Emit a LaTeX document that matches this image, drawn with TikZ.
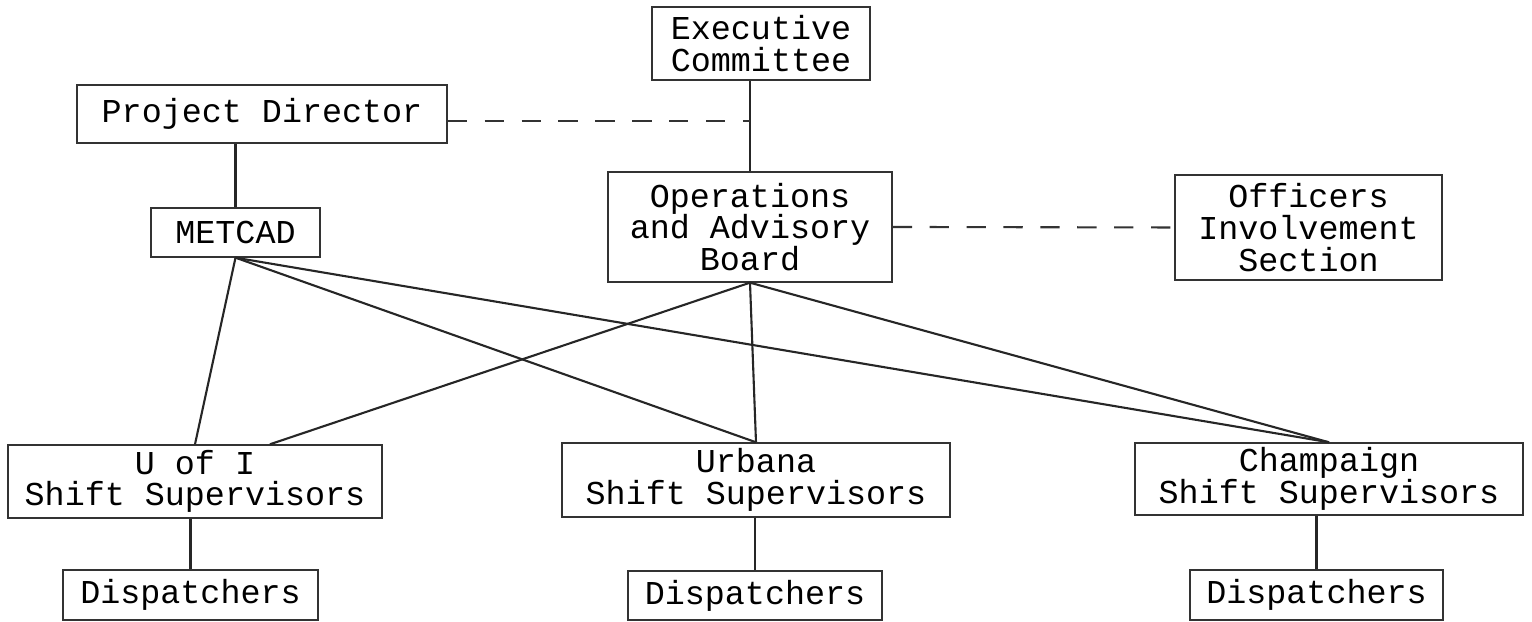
\documentclass[tikz,border=0pt]{standalone}
\usepackage{fontspec}
\setmonofont{Liberation Mono}
\usetikzlibrary{calc}
\tikzstyle{unit} = [draw=black!80, thin, align=center, inner sep=1pt, font=\ttfamily\fontsize{9.5}{9}\selectfont]
\tikzstyle{link} = [semithick, black!85]
\tikzstyle{staff} = [semithick, black!80, dash pattern=on 5.5pt off 5pt]

\begin{document}
\begin{tikzpicture}
\useasboundingbox (0,0) rectangle (15.32,6.22);
% top of the chart
\node[unit, minimum width=2.18cm, minimum height=0.73cm] (exec) at (7.61,5.785) {Executive\\Committee};
\node[unit, minimum width=3.70cm, minimum height=0.58cm] (director) at (2.62,5.08) {Project Director};
\node[unit, minimum width=1.69cm, minimum height=0.49cm] (metcad) at (2.355,3.895) {METCAD};
\node[unit, minimum width=2.84cm, minimum height=1.10cm] (board) at (7.50,3.95) {Operations\\and Advisory\\Board};
\node[unit, minimum width=2.67cm, minimum height=1.05cm] (officers) at (13.085,3.945) {Officers\\Involvement\\Section};
% shift supervisors
\node[unit, minimum width=3.74cm, minimum height=0.73cm] (uofi) at (1.95,1.405) {U of I\\Shift Supervisors};
\node[unit, minimum width=3.88cm, minimum height=0.74cm] (urbana) at (7.56,1.42) {Urbana\\Shift Supervisors};
\node[unit, minimum width=3.88cm, minimum height=0.72cm] (champaign) at (13.29,1.43) {Champaign\\Shift Supervisors};
% dispatchers
\node[unit, minimum width=2.55cm, minimum height=0.50cm] (dispU) at (1.905,0.27) {Dispatchers};
\node[unit, minimum width=2.54cm, minimum height=0.49cm] (dispUrb) at (7.55,0.265) {Dispatchers};
\node[unit, minimum width=2.53cm, minimum height=0.50cm] (dispC) at (13.165,0.27) {Dispatchers};

\coordinate (uofiR) at ([xshift=0.75cm]uofi.north);

\draw[link] (board.north) -- (board.north |- exec.south);
\draw[staff] ([yshift=-0.07cm]director.east) -- ([yshift=-0.07cm]director.east -| board.north);
\draw[link] (metcad.north |- director.south) -- (metcad.north);
\draw[staff] (board.east) -- (officers.west);

\draw[link] (metcad.south) -- (uofi.north);
\draw[link] (metcad.south) -- (urbana.north);
\draw[link] (metcad.south) -- (champaign.north);
\draw[link] (board.south) -- (uofiR);
\draw[link] (board.south) -- (urbana.north);
\draw[link] (board.south) -- (champaign.north);

\draw[link] (dispU.north |- uofi.south) -- (dispU.north);
\draw[link] (dispUrb.north |- urbana.south) -- (dispUrb.north);
\draw[link] (dispC.north |- champaign.south) -- (dispC.north);
\end{tikzpicture}
\end{document}
